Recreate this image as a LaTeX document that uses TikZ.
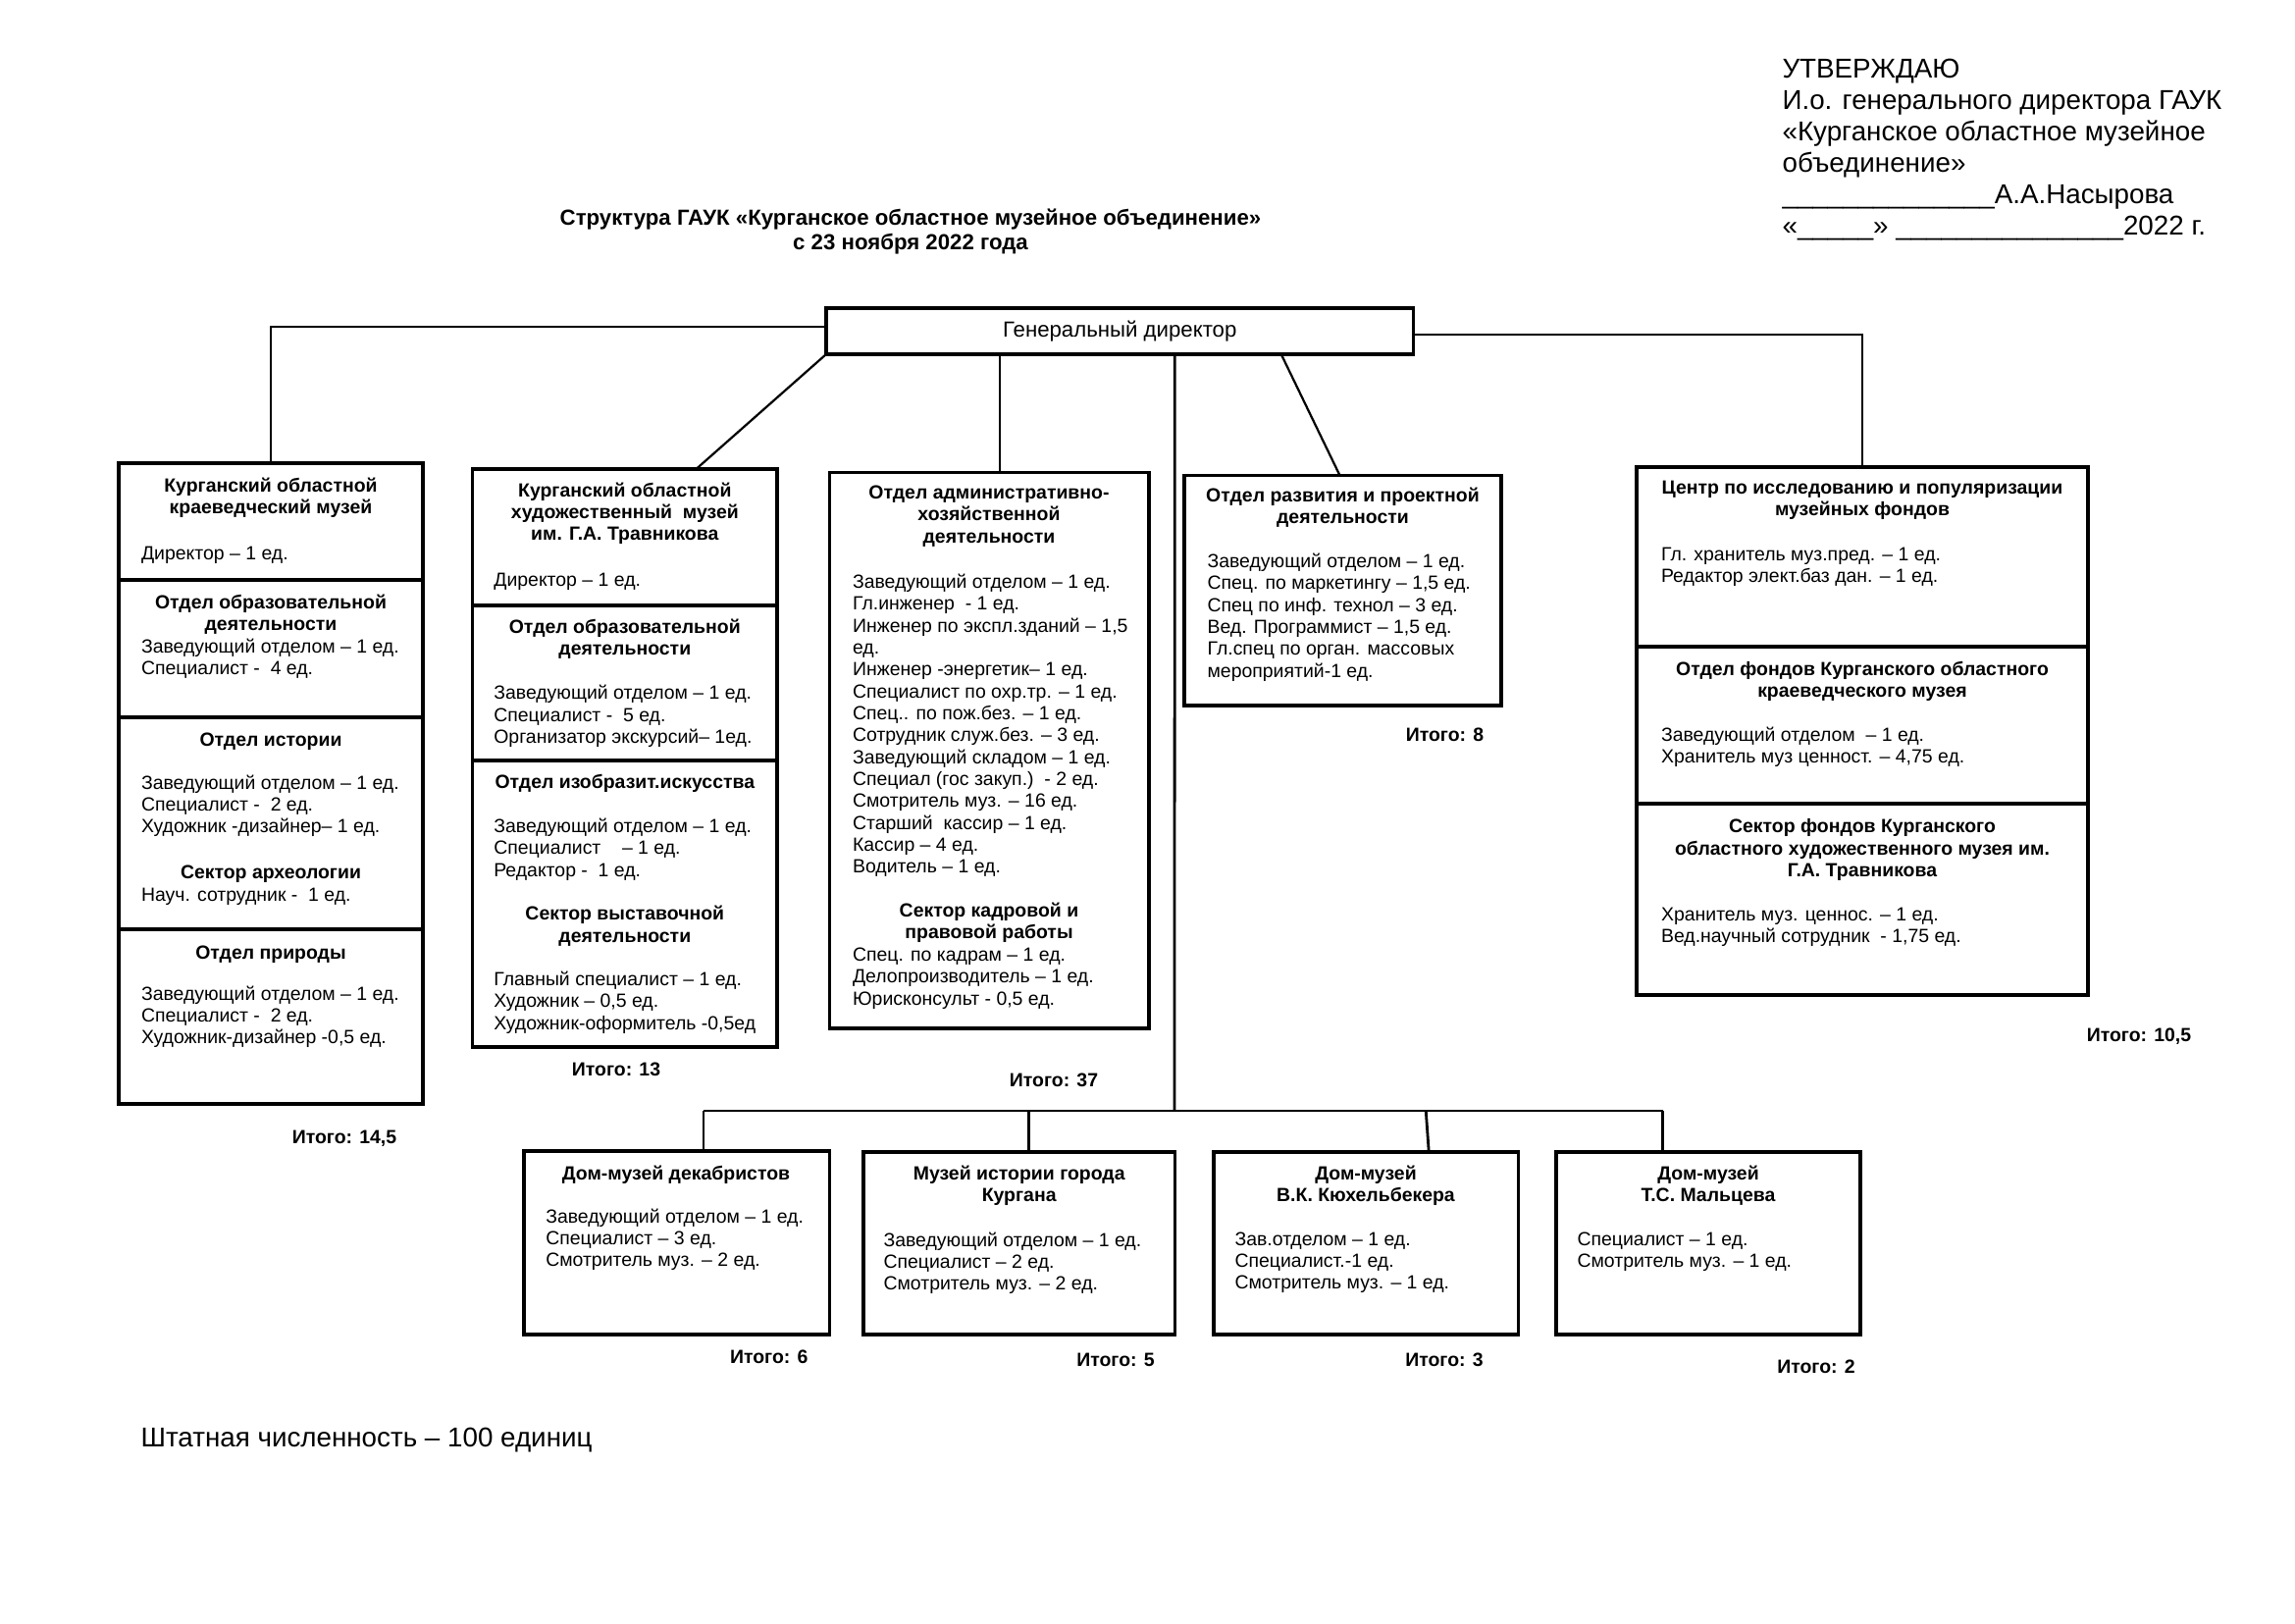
\documentclass[tikz,border=0pt]{standalone}
\usepackage{fontspec}
\setmainfont{Liberation Sans}
\usepackage{tikz}

\newlength{\px}
\setlength{\px}{0.36pt}
\newcommand{\txtfont}{\fontsize{7}{8.05}\selectfont}
\newcommand{\hdfont}{\fontsize{7}{8.05}\selectfont\bfseries}
\newcommand{\ttlfont}{\fontsize{8}{9.2}\selectfont\bfseries}
\newcommand{\gdfont}{\fontsize{8}{9.2}\selectfont}
\newcommand{\bigfont}{\fontsize{10}{11.5}\selectfont}

\tikzset{
  box/.style={draw, line width=1.1pt, inner sep=0pt, outer sep=0pt, anchor=north west},
  link/.style={line width=0.8pt},
  busline/.style={line width=1pt},
  hd/.style={anchor=north, align=center, inner sep=0pt, font=\hdfont, execute at begin node=\strut},
  txt/.style={anchor=north west, align=left, inner sep=0pt, font=\txtfont, execute at begin node=\strut},
  sum/.style={hd},
}

\begin{document}
\begin{tikzpicture}[x=0.36pt, y=-0.36pt]
  \useasboundingbox[fill=white] (0,0) rectangle (2339,1654);

  % title and approval
  \node[anchor=north, align=center, inner sep=0pt, font=\ttlfont, execute at begin node=\strut] (ttl) at (928,212)
    {Структура ГАУК «Курганское областное музейное объединение»\\с 23 ноября 2022 года};
  \node[anchor=north west, align=left, inner sep=0pt, font=\bigfont, execute at begin node=\strut] (utv) at (1816,60)
    {УТВЕРЖДАЮ\\И.о. генерального директора ГАУК\\«Курганское областное музейное\\объединение»\\
     \_\_\_\_\_\_\_\_\_\_\_\_\_\_А.А.Насырова\\«\_\_\_\_\_» \_\_\_\_\_\_\_\_\_\_\_\_\_\_\_2022 г.};
  \node[anchor=north west, inner sep=0pt, font=\bigfont, execute at begin node=\strut] (shtat) at (143,1452)
    {Штатная численность – 100 единиц};

  % director
  \node[box, minimum width=598.5\px, minimum height=47\px, font=\gdfont] (gd) at (842,314) {Генеральный директор};

  % kraevedchesky museum
  \node[box, minimum width=310\px, minimum height=119\px] (kkm1) at (121,472) {};
  \node[box, minimum width=310\px, minimum height=140\px] (kkm2) at (kkm1.south west) {};
  \node[box, minimum width=310\px, minimum height=216\px] (kkm3) at (kkm2.south west) {};
  \node[box, minimum width=310\px, minimum height=178\px] (kkm4) at (kkm3.south west) {};
  \node[hd] at (276,486) {Курганский областной\\краеведческий музей};
  \node[txt] at (143.5,554) {Директор – 1 ед.};
  \node[hd] at (276,605) {Отдел образовательной\\деятельности};
  \node[txt] at (143.5,650) {Заведующий отделом – 1 ед.\\Специалист -\ \ 4 ед.};
  \node[hd] at (276,744) {Отдел истории};
  \node[txt] at (143.5,789) {Заведующий отделом – 1 ед.\\Специалист -\ \ 2 ед.\\Художник -дизайнер– 1 ед.};
  \node[hd] at (276,879) {Сектор археологии};
  \node[txt] at (143.5,902) {Науч. сотрудник -\ \ 1 ед.};
  \node[hd] at (276,961) {Отдел природы};
  \node[txt] at (143.5,1004) {Заведующий отделом – 1 ед.\\Специалист -\ \ 2 ед.\\Художник-дизайнер -0,5 ед.};
  \node[sum] at (351,1149) {Итого: 14,5};

  % art museum
  \node[box, minimum width=310.5\px, minimum height=139\px] (khm1) at (481.5,478) {};
  \node[box, minimum width=310.5\px, minimum height=158\px] (khm2) at (khm1.south west) {};
  \node[box, minimum width=310.5\px, minimum height=292\px] (khm3) at (khm2.south west) {};
  \node[hd] at (636.8,491) {Курганский областной\\художественный\ \ музей\\им. Г.А. Травникова};
  \node[txt] at (502.8,581) {Директор – 1 ед.};
  \node[hd] at (636.8,630) {Отдел образовательной\\деятельности};
  \node[txt] at (502.8,697.7) {Заведующий отделом – 1 ед.\\Специалист -\ \ 5 ед.\\Организатор экскурсий– 1ед.};
  \node[hd] at (636.8,787.7) {Отдел изобразит.искусства};
  \node[txt] at (502.8,833.3) {Заведующий отделом – 1 ед.\\Специалист\ \ \ \ – 1 ед.\\Редактор -\ \ 1 ед.};
  \node[hd] at (636.8,922.7) {Сектор выставочной\\деятельности};
  \node[txt] at (502.8,989.3) {Главный специалист – 1 ед.\\Художник – 0,5 ед.\\Художник-оформитель -0,5ед};
  \node[sum] at (628,1080.3) {Итого: 13};

  % administrative department
  \node[box, minimum width=325.5\px, minimum height=566.5\px] (aho) at (845.5,481.5) {};
  \node[hd] at (1008,494.3) {Отдел административно-\\хозяйственной\\деятельности};
  \node[txt] at (868.5,584.3) {Заведующий отделом – 1 ед.\\Гл.инженер\ \ - 1 ед.\\Инженер по экспл.зданий – 1,5\\ед.\\
    Инженер -энергетик– 1 ед.\\Специалист по охр.тр. – 1 ед.\\Спец.. по пож.без. – 1 ед.\\Сотрудник служ.без. – 3 ед.\\
    Заведующий складом – 1 ед.\\Специал (гос закуп.)\ \ - 2 ед.\\Смотритель муз. – 16 ед.\\Старший\ \ кассир – 1 ед.\\
    Кассир – 4 ед.\\Водитель – 1 ед.};
  \node[hd] at (1008,919.3) {Сектор кадровой и\\правовой работы};
  \node[txt] at (868.5,965.3) {Спец. по кадрам – 1 ед.\\Делопроизводитель – 1 ед.\\Юрисконсульт - 0,5 ед.};
  \node[sum] at (1074,1091) {Итого: 37};

  % development department
  \node[box, minimum width=323\px, minimum height=234.5\px] (razv) at (1207,484.5) {};
  \node[hd] at (1368.5,496.3) {Отдел развития и проектной\\деятельности};
  \node[txt] at (1230,563.3) {Заведующий отделом – 1 ед.\\Спец. по маркетингу – 1,5 ед.\\Спец по инф. технол – 3 ед.\\
    Вед. Программист – 1,5 ед.\\Гл.спец по орган. массовых\\мероприятий-1 ед.};
  \node[sum] at (1472.5,739.3) {Итого: 8};

  % research centre
  \node[box, minimum width=460\px, minimum height=183\px] (cnt1) at (1668,476) {};
  \node[box, minimum width=460\px, minimum height=160\px] (cnt2) at (cnt1.south west) {};
  \node[box, minimum width=460\px, minimum height=195\px] (cnt3) at (cnt2.south west) {};
  \node[hd] at (1898,489.3) {Центр по исследованию и популяризации\\музейных фондов};
  \node[txt] at (1692.5,557.3) {Гл. хранитель муз.пред. – 1 ед.\\Редактор элект.баз дан. – 1 ед.};
  \node[hd] at (1898,673.3) {Отдел фондов Курганского областного\\краеведческого музея};
  \node[txt] at (1692.5,740.3) {Заведующий отделом\ \ – 1 ед.\\Хранитель муз ценност. – 4,75 ед.};
  \node[hd] at (1898,834.3) {Сектор фондов Курганского\\областного художественного музея им.\\Г.А. Травникова};
  \node[txt] at (1692.5,924.3) {Хранитель муз. ценнос. – 1 ед.\\Вед.научный сотрудник\ \ - 1,75 ед.};
  \node[sum] at (2180,1045.3) {Итого: 10,5};

  % house museums
  \node[box, minimum width=311.5\px, minimum height=187\px] (dek) at (534,1173) {};
  \node[hd] at (689,1186) {Дом-музей декабристов};
  \node[txt] at (555.7,1231) {Заведующий отделом – 1 ед.\\Специалист – 3 ед.\\Смотритель муз. – 2 ед.};
  \node[sum] at (783.7,1373.3) {Итого: 6};

  \node[box, minimum width=317.5\px, minimum height=186\px] (ig) at (880,1174) {};
  \node[hd] at (1038.7,1187) {Музей истории города\\Кургана};
  \node[txt] at (900,1255) {Заведующий отделом – 1 ед.\\Специалист – 2 ед.\\Смотритель муз. – 2 ед.};
  \node[sum] at (1137,1376) {Итого: 5};

  \node[box, minimum width=310.5\px, minimum height=186\px] (kyu) at (1237,1174) {};
  \node[hd] at (1392,1187) {Дом-музей\\В.К. Кюхельбекера};
  \node[txt] at (1258,1255) {Зав.отделом – 1 ед.\\Специалист.-1 ед.\\Смотритель муз. – 1 ед.};
  \node[sum] at (1472,1376) {Итого: 3};

  \node[box, minimum width=310\px, minimum height=186\px] (mal) at (1586,1174) {};
  \node[hd] at (1741,1187) {Дом-музей\\Т.С. Мальцева};
  \node[txt] at (1607,1255) {Специалист – 1 ед.\\Смотритель муз. – 1 ед.};
  \node[sum] at (1851,1383.3) {Итого: 2};

  % connectors
  \draw[link] ([yshift=4.5\px]gd.west) -| (kkm1.north);
  \draw[link] (gd.south west) -- ([xshift=228\px]khm1.north west);
  \draw[link] ([xshift=173.5\px]aho.north west) -- ([xshift=173.5\px]aho.north west |- gd.south);
  \draw[link] ([xshift=164.5\px]gd.south) -- ([xshift=158.5\px]razv.north west);
  \draw[link] ([yshift=-3.5\px]gd.east) -| (cnt1.north);

  \coordinate (bus) at (1197,1132);
  \coordinate (busL) at (717,1132);
  \coordinate (busR) at (1694.5,1132);
  \draw[busline] ([xshift=56\px]gd.south) -- (bus);
  \draw[busline] (busL) -- (busR);
  \draw[busline] (busL) -- (busL |- dek.north);
  \draw[busline] ([xshift=10\px]ig.north |- bus) -- ([xshift=10\px]ig.north);
  \draw[busline] ([xshift=61\px]kyu.north |- bus) -- ([xshift=64\px]kyu.north);
  \draw[busline] (busR) -- (busR |- mal.north);
\end{tikzpicture}
\end{document}
